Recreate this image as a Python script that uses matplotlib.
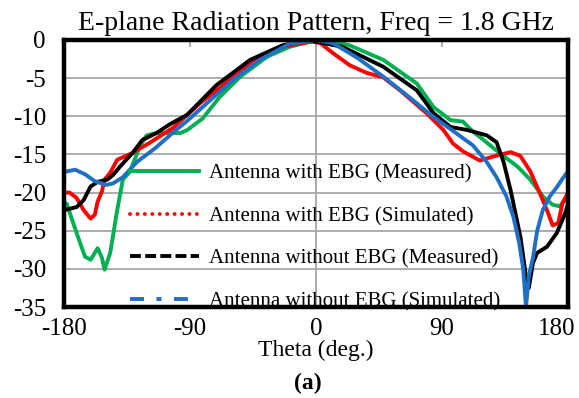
import matplotlib
matplotlib.use("Agg")
import matplotlib.pyplot as plt
from matplotlib.lines import Line2D
from matplotlib.transforms import ScaledTranslation

plt.rcParams['font.family'] = ['Liberation Serif', 'DejaVu Serif']

# E-plane pattern, 1.8 GHz: theta (deg) and normalised gain (dB)
theta_ebg_meas = [-180, -178, -171, -165, -161, -156, -153, -151, -147, -142, -138, -133,
                  -126, -121, -114, -97, -92, -81, -69, -54, -35, -19, -4, 10, 24, 48,
                  72, 84, 96, 105, 112, 117, 131, 144, 153, 162, 169, 174, 178, 180]
gain_ebg_meas = [-21.3, -21.5, -25.3, -28.4, -28.8, -27.3, -28.5, -30.1, -27.9, -22.3, -18.3, -17.3,
                 -14.0, -12.5, -12.2, -12.2, -11.8, -10.3, -7.5, -4.8, -2.2, -0.9, -0.2, 0.0, -0.7, -2.6,
                 -5.7, -8.8, -10.5, -10.7, -12.0, -12.7, -14.8, -16.6, -18.3, -20.5, -21.6, -21.8, -21.0, -20.5]

theta_ebg_sim = [-180, -176, -171, -166, -161, -158, -156, -153, -151, -147, -142, -131,
                 -119, -102, -83, -71, -47, -24, -3, 3, 12, 24, 36, 48, 60, 79, 91, 98,
                 105, 117, 126, 139, 146, 153, 159, 165, 169, 173, 176, 180]
gain_ebg_sim = [-20.0, -20.0, -20.7, -22.3, -23.4, -22.9, -21.2, -19.9, -18.3, -17.4, -15.7, -14.8,
                -13.5, -11.5, -8.3, -6.6, -3.0, -0.9, -0.2, -0.4, -1.7, -3.3, -4.3, -4.9, -6.6, -9.6, -11.8, -13.6,
                -14.6, -15.8, -15.3, -14.7, -15.2, -17.2, -19.7, -22.3, -24.3, -24.0, -21.4, -20.0]

theta_noebg_meas = [-180, -171, -166, -161, -156, -149, -145, -140, -131, -124, -114, -104,
                    -92, -71, -47, -24, -6, 19, 48, 72, 84, 96, 108, 122, 129, 134, 139,
                    146, 150, 152, 155, 158, 165, 172, 178, 180]
gain_noebg_meas = [-22.3, -21.9, -21.0, -19.2, -18.6, -18.3, -17.7, -16.6, -14.8, -13.1, -12.2, -11.0,
                   -9.8, -5.9, -2.6, -0.7, 0.0, -0.9, -3.5, -6.6, -9.6, -11.4, -11.8, -12.5, -13.4, -16.0, -19.7,
                   -25.8, -31.0, -32.5, -29.2, -27.9, -27.1, -25.3, -22.7, -21.5]

theta_noebg_sim = [-180, -172, -165, -158, -150, -145, -138, -128, -115, -100, -92, -75,
                   -59, -40, -19, 0, 12, 30, 48, 66, 84, 100, 112, 122, 129, 136, 141,
                   145, 148, 150, 152, 155, 158, 162, 167, 172, 176, 180]
gain_noebg_sim = [-17.3, -17.0, -17.6, -18.5, -19.0, -18.8, -18.0, -16.0, -14.2, -11.8, -10.6, -7.8,
                  -5.2, -2.6, -0.5, 0.0, -0.4, -2.4, -4.8, -7.4, -10.1, -12.2, -13.8, -16.0, -18.0, -20.5, -23.2,
                  -26.5, -30.0, -35.0, -31.0, -28.5, -25.0, -22.3, -20.5, -19.3, -18.2, -17.2]

series_labels = ['Antenna with EBG (Measured)', 'Antenna with EBG (Simulated)',
                 'Antenna without EBG (Measured)', 'Antenna without EBG (Simulated)']
x_ticks = [-180, -90, 0, 90, 180]
y_ticks = [0, -5, -10, -15, -20, -25, -30, -35]

GREEN, RED, BLACK, BLUE = '#00b050', '#ff0000', '#000000', '#1f6fc5'
LW = 2.8

fig = plt.figure(figsize=(5.79, 3.98), dpi=100)
ax = fig.add_axes([64 / 579, 91 / 398, 504 / 579, 267 / 398])

ax.plot(theta_ebg_meas, gain_ebg_meas, color=GREEN, lw=LW, zorder=3)
ax.plot(theta_ebg_sim, gain_ebg_sim, color=RED, lw=LW, zorder=4)
ax.plot(theta_noebg_meas, gain_noebg_meas, color=BLACK, lw=LW, zorder=5)
ax.plot(theta_noebg_sim, gain_noebg_sim, color=BLUE, lw=LW, zorder=6)

ax.set_xlim(-180, 180)
ax.set_ylim(-35, 0)
ax.set_xticks(x_ticks)
ax.set_yticks(y_ticks)
ax.set_xticklabels([str(t) for t in x_ticks])
ax.set_yticklabels([str(t) for t in y_ticks])

# grey gridlines plus the value axis crossing at theta = 0
ax.yaxis.grid(True, color='#a6a6a6', lw=1.3, zorder=1)
ax.axvline(0, color='#a6a6a6', lw=1.3, zorder=1)
ax.set_axisbelow(True)

for sp in ax.spines.values():
    sp.set_linewidth(3.2)
    sp.set_zorder(10)

ax.tick_params(axis='y', length=0, pad=13, labelsize=18)
ax.tick_params(axis='x', bottom=False, top=True, direction='in', length=5,
               width=1.3, color='#a6a6a6', pad=8, labelsize=18)

# keep the last x label inside the figure
last = ax.get_xticklabels()[-1]
last.set_transform(last.get_transform() + ScaledTranslation(-0.11, 0, fig.dpi_scale_trans))

ax.set_title('E-plane Radiation Pattern, Freq = 1.8 GHz', fontsize=20, pad=7)
ax.set_xlabel('Theta (deg.)', fontsize=17, labelpad=0)
fig.text(308 / 579, 1 - 383 / 398, '(a)', fontsize=17, fontweight='bold',
         ha='center', va='center')

handles = [
    Line2D([], [], color=GREEN, lw=LW),
    Line2D([], [], color=RED, lw=LW, ls=(0, (0.01, 1.9)), dash_capstyle='round'),
    Line2D([], [], color=BLACK, lw=LW, ls=(0, (2.8, 1.1))),
    Line2D([], [], color=BLUE, lw=LW, ls=(0, (3.6, 3.2, 1.3, 3.2))),
]
leg = ax.legend(handles, series_labels, loc='upper left', frameon=False, fontsize=15,
                handlelength=3.3, handletextpad=0.5, labelspacing=1.1,
                borderpad=0, borderaxespad=0,
                bbox_to_anchor=(130 / 579, 1 - 164 / 398), bbox_transform=fig.transFigure)
leg.set_zorder(8)

fig.savefig('out.png', dpi=100)
